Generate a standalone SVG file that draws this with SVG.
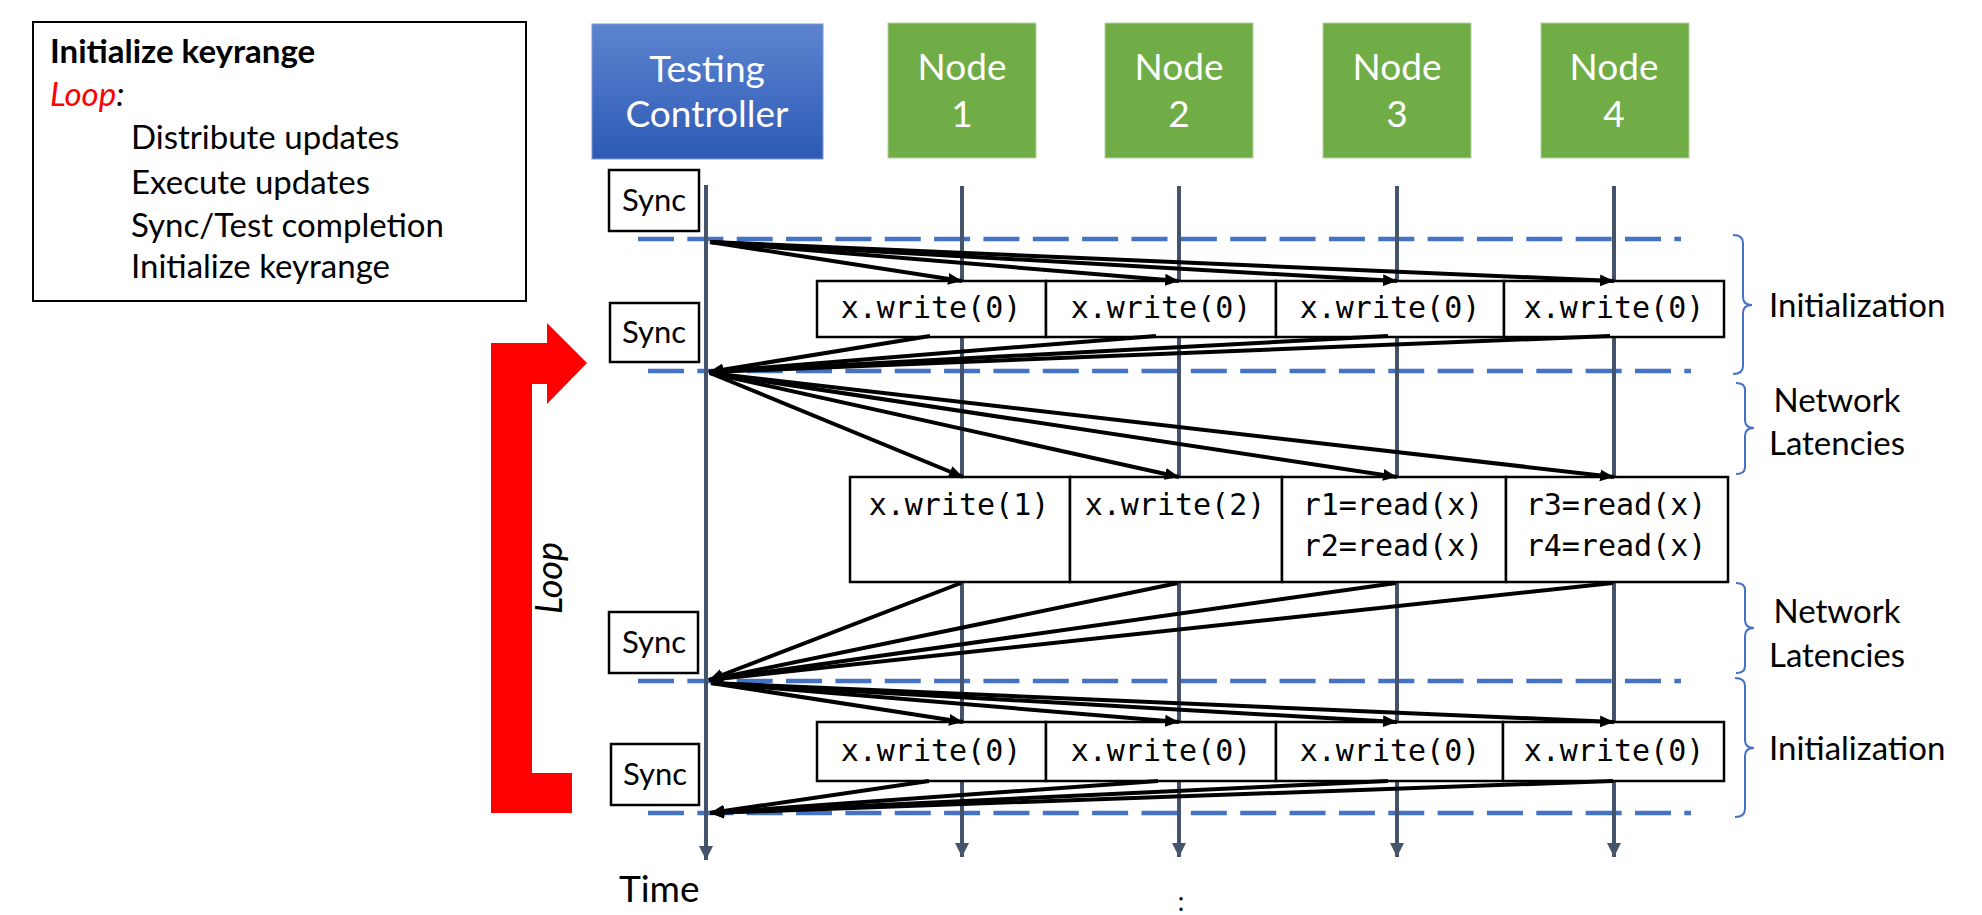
<svg xmlns="http://www.w3.org/2000/svg" width="1982" height="915" viewBox="0 0 1982 915">
<style>
.cal{font-family:Lato,"Open Sans","Liberation Sans",sans-serif;fill:#000}
.mono{font-family:"DejaVu Sans Mono","Liberation Mono",monospace;font-size:30px;fill:#000;text-anchor:middle}
.hdr{font-size:37px;fill:#fff;text-anchor:middle}
.box{fill:#fff;stroke:#000;stroke-width:2.5}
.dash{stroke:#4472c4;stroke-width:4.7;stroke-dasharray:36 13.35;fill:none}
.life{stroke:#44546a;stroke-width:4;fill:none;marker-end:url(#lh)}
.conn{stroke:#000;stroke-width:4;fill:none;marker-end:url(#ah)}
.brace{stroke:#4472c4;stroke-width:2;fill:none}
.lbl{font-size:33px}
.leg{font-size:33px}
</style>
<defs>
<linearGradient id="gb" x1="0" y1="0" x2="0" y2="1">
<stop offset="0" stop-color="#5d84d0"/>
<stop offset="1" stop-color="#2c5ab5"/>
</linearGradient>
<marker id="ah" markerUnits="userSpaceOnUse" markerWidth="16" markerHeight="13" refX="14" refY="6.5" orient="auto">
<path d="M0,0.5 L14,6.5 L0,12.5 z" fill="#000"/>
</marker>
<marker id="lh" markerUnits="userSpaceOnUse" markerWidth="16" markerHeight="16" refX="14" refY="7.5" orient="auto">
<path d="M0,0.5 L14,7.5 L0,14.5 z" fill="#44546a"/>
</marker>
</defs>

<g id="legend">
<rect x="33" y="22" width="493" height="279" fill="#fff" stroke="#000" stroke-width="2"/>
<text class="cal leg" x="50" y="63" font-weight="bold">Initialize keyrange</text>
<text class="cal leg" x="50" y="106" font-style="italic"><tspan fill="#ff0000">Loop</tspan>:</text>
<text class="cal leg" x="131" y="149">Distribute updates</text>
<text class="cal leg" x="131" y="194">Execute updates</text>
<text class="cal leg" x="131" y="237">Sync/Test completion</text>
<text class="cal leg" x="131" y="278">Initialize keyrange</text>
</g>

<g id="loop-arrow">
<path d="M491,343 L547,343 L547,323 L587,363 L547,404 L547,384 L532,384 L532,773 L572,773 L572,813 L491,813 Z" fill="#ff0000"/>
<text class="cal" x="0" y="0" font-size="36" font-style="italic" text-anchor="middle" transform="translate(562 578) rotate(-90)">Loop</text>
</g>

<g id="phase-lines">
<line class="dash" x1="638" y1="239" x2="1681" y2="239"/>
<line class="dash" x1="648" y1="371" x2="1691" y2="371"/>
<line class="dash" x1="638" y1="681" x2="1681" y2="681"/>
<line class="dash" x1="648" y1="813" x2="1691" y2="813"/>
</g>

<g id="lifelines">
<line class="life" x1="706" y1="185" x2="706" y2="860"/>
<line class="life" x1="962" y1="186" x2="962" y2="857"/>
<line class="life" x1="1179" y1="186" x2="1179" y2="857"/>
<line class="life" x1="1397" y1="186" x2="1397" y2="857"/>
<line class="life" x1="1614" y1="186" x2="1614" y2="857"/>
</g>

<g id="testing-controller">
<rect x="592" y="24" width="231" height="135" fill="url(#gb)" stroke="#7a98d6" stroke-width="1"/>
<text class="cal hdr" x="707" y="82">Testing</text>
<text class="cal hdr" x="707" y="127">Controller</text>
</g>
<g id="node1">
<rect x="888" y="23" width="148" height="135" fill="#70ad47" stroke="#b5cfa3" stroke-width="1"/>
<text class="cal hdr" x="962" y="80">Node</text>
<text class="cal hdr" x="962" y="127">1</text>
</g>
<g id="node2">
<rect x="1105" y="23" width="148" height="135" fill="#70ad47" stroke="#b5cfa3" stroke-width="1"/>
<text class="cal hdr" x="1179" y="80">Node</text>
<text class="cal hdr" x="1179" y="127">2</text>
</g>
<g id="node3">
<rect x="1323" y="23" width="148" height="135" fill="#70ad47" stroke="#b5cfa3" stroke-width="1"/>
<text class="cal hdr" x="1397" y="80">Node</text>
<text class="cal hdr" x="1397" y="127">3</text>
</g>
<g id="node4">
<rect x="1541" y="23" width="148" height="135" fill="#70ad47" stroke="#b5cfa3" stroke-width="1"/>
<text class="cal hdr" x="1614" y="80">Node</text>
<text class="cal hdr" x="1614" y="127">4</text>
</g>

<g id="sync1">
<rect class="box" x="609" y="170" width="90" height="61" stroke-width="2"/>
<text class="cal" x="654" y="211" font-size="31" text-anchor="middle">Sync</text>
</g>
<g id="sync2">
<rect class="box" x="610" y="303" width="89" height="59" stroke-width="2"/>
<text class="cal" x="654" y="343" font-size="31" text-anchor="middle">Sync</text>
</g>
<g id="sync3">
<rect class="box" x="609" y="612" width="89" height="61" stroke-width="2"/>
<text class="cal" x="654" y="653" font-size="31" text-anchor="middle">Sync</text>
</g>
<g id="sync4">
<rect class="box" x="611" y="744" width="88" height="61" stroke-width="2"/>
<text class="cal" x="655" y="785" font-size="31" text-anchor="middle">Sync</text>
</g>

<g id="init-writes-1">
<rect class="box" x="817" y="281" width="229" height="56"/>
<rect class="box" x="1046" y="281" width="230" height="56"/>
<rect class="box" x="1276" y="281" width="228" height="56"/>
<rect class="box" x="1504" y="281" width="220" height="56"/>
<text class="mono" x="931" y="318">x.write(0)</text>
<text class="mono" x="1161" y="318">x.write(0)</text>
<text class="mono" x="1390" y="318">x.write(0)</text>
<text class="mono" x="1614" y="318">x.write(0)</text>
</g>

<g id="test-ops">
<rect class="box" x="850" y="477" width="220" height="105"/>
<rect class="box" x="1070" y="477" width="212" height="105"/>
<rect class="box" x="1282" y="477" width="224" height="105"/>
<rect class="box" x="1506" y="477" width="222" height="105"/>
<text class="mono" x="959" y="515">x.write(1)</text>
<text class="mono" x="1175" y="515">x.write(2)</text>
<text class="mono" x="1393" y="515">r1=read(x)</text>
<text class="mono" x="1616" y="515">r3=read(x)</text>
<text class="mono" x="1393" y="556">r2=read(x)</text>
<text class="mono" x="1616" y="556">r4=read(x)</text>
</g>

<g id="init-writes-2">
<rect class="box" x="817" y="722" width="229" height="59"/>
<rect class="box" x="1046" y="722" width="230" height="59"/>
<rect class="box" x="1276" y="722" width="227" height="59"/>
<rect class="box" x="1503" y="722" width="221" height="59"/>
<text class="mono" x="931" y="761">x.write(0)</text>
<text class="mono" x="1161" y="761">x.write(0)</text>
<text class="mono" x="1390" y="761">x.write(0)</text>
<text class="mono" x="1614" y="761">x.write(0)</text>
</g>

<g id="connectors">
<line class="conn" x1="710" y1="242" x2="962" y2="281"/>
<line class="conn" x1="710" y1="242" x2="1179" y2="281"/>
<line class="conn" x1="710" y1="242" x2="1397" y2="281"/>
<line class="conn" x1="710" y1="242" x2="1614" y2="281"/>
<line class="conn" x1="930" y1="336" x2="709" y2="372"/>
<line class="conn" x1="1156" y1="336" x2="709" y2="372"/>
<line class="conn" x1="1388" y1="336" x2="709" y2="372"/>
<line class="conn" x1="1610" y1="336" x2="709" y2="372"/>
<line class="conn" x1="710" y1="373" x2="963" y2="477"/>
<line class="conn" x1="710" y1="373" x2="1179" y2="477"/>
<line class="conn" x1="710" y1="373" x2="1397" y2="477"/>
<line class="conn" x1="710" y1="373" x2="1614" y2="477"/>
<line class="conn" x1="961" y1="583" x2="709" y2="680"/>
<line class="conn" x1="1178" y1="583" x2="709" y2="680"/>
<line class="conn" x1="1396" y1="583" x2="709" y2="680"/>
<line class="conn" x1="1613" y1="583" x2="709" y2="680"/>
<line class="conn" x1="711" y1="683" x2="963" y2="722"/>
<line class="conn" x1="711" y1="683" x2="1179" y2="722"/>
<line class="conn" x1="711" y1="683" x2="1397" y2="722"/>
<line class="conn" x1="711" y1="683" x2="1614" y2="722"/>
<line class="conn" x1="929" y1="781" x2="710" y2="813"/>
<line class="conn" x1="1158" y1="781" x2="710" y2="813"/>
<line class="conn" x1="1388" y1="781" x2="710" y2="813"/>
<line class="conn" x1="1613" y1="781" x2="710" y2="813"/>
</g>

<g id="phase-labels">
<path class="brace" d="M1733,235 Q1743,235 1743,243 V297 Q1743,305 1752,305 Q1743,305 1743,313 V366 Q1743,374 1733,374"/>
<text class="cal lbl" x="1769" y="317">Initialization</text>
<path class="brace" d="M1736,383 Q1745,383 1745,390 V420 Q1745,428 1754,428 Q1745,428 1745,436 V467 Q1745,474 1736,474"/>
<text class="cal lbl" x="1837" y="412" text-anchor="middle">Network</text>
<text class="cal lbl" x="1837" y="455" text-anchor="middle">Latencies</text>
<path class="brace" d="M1736,583 Q1745,583 1745,590 V620 Q1745,628 1754,628 Q1745,628 1745,636 V666 Q1745,673 1736,673"/>
<text class="cal lbl" x="1837" y="623" text-anchor="middle">Network</text>
<text class="cal lbl" x="1837" y="667" text-anchor="middle">Latencies</text>
<path class="brace" d="M1735,678 Q1745,678 1745,686 V740 Q1745,748 1754,748 Q1745,748 1745,756 V809 Q1745,817 1735,817"/>
<text class="cal lbl" x="1769" y="760">Initialization</text>
</g>

<g id="time-axis">
<text class="cal" x="619" y="902" font-size="37">Time</text>
<text class="cal" x="1181" y="911" font-size="26" text-anchor="middle">:</text>
</g>
</svg>
